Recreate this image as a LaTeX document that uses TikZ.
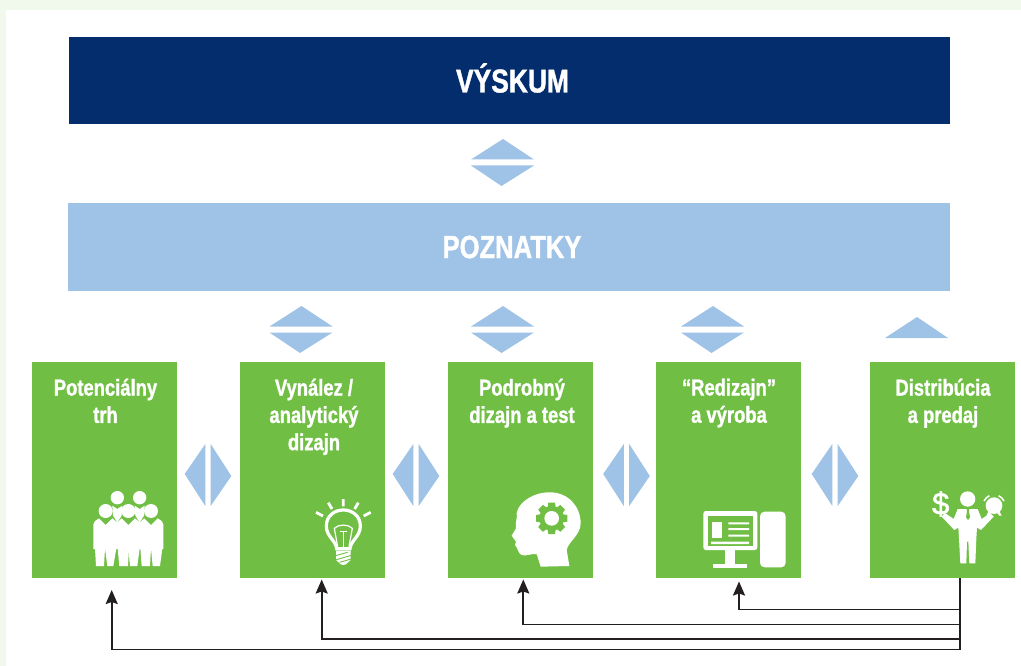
\documentclass[tikz,border=0pt]{standalone}
\usepackage{fontspec}
\setmainfont[FakeStretch=0.80,BoldFeatures={FakeBold=1.2}]{Liberation Sans}
\newfontfamily\dollarfont[FakeBold=1.5]{Liberation Sans}
\usetikzlibrary{arrows.meta}
\definecolor{navy}{HTML}{042D6E}
\definecolor{sky}{HTML}{9FC3E7}
\definecolor{leaf}{HTML}{70BF44}
\definecolor{pale}{HTML}{F1F8EC}
\definecolor{ink}{HTML}{231F20}
\tikzset{
  bar/.style={minimum height=87pt,inner sep=0pt,outer sep=0pt},
  bartext/.style={text=white,inner sep=0pt,font=\fontsize{33}{38}\selectfont\bfseries},
  stage/.style={fill=leaf,minimum width=145pt,minimum height=216pt,inner sep=0pt,outer sep=0pt},
  stagelabel/.style={anchor=north,align=center,text=white,inner sep=0pt,font=\fontsize{23}{27.3}\selectfont\bfseries},
  tri/.style={fill=sky},
  feedback/.style={draw=ink,line width=1.9pt,-{Stealth[length=14pt,width=12pt,inset=2pt]}},
  spine/.style={draw=ink,line width=1.9pt},
  ico/.style={fill=white},
  icol/.style={draw=white,line cap=round},
  zm/.style={x=0.33333pt,y=-0.33333pt}
}
% double triangles, vertical pair: centre x, top y
\newcommand\vpair[2]{%
  \fill[tri] (#1-31.5,#2+20.5) -- (#1+0.5,#2) -- (#1+31.5,#2+20.5) -- cycle;
  \fill[tri] (#1-31.5,#2+26.5) -- (#1-1,#2+47) -- (#1+31.5,#2+26.5) -- cycle;
}
% double triangles, horizontal pair: centre x
\newcommand\hpair[1]{%
  \fill[tri] (#1-2.7,444) -- (#1-23.3,474) -- (#1-2.7,506) -- cycle;
  \fill[tri] (#1+2.7,444) -- (#1+23.3,476) -- (#1+2.7,506) -- cycle;
}
\begin{document}
\begin{tikzpicture}[x=1pt,y=-1pt]
\useasboundingbox (0,0) rectangle (1021,666);
\fill[pale] (0,0) rectangle (1021,666);
\fill[white] (6,10) rectangle (1021,666);

\node[bar,fill=navy,minimum width=881pt] (vyskum) at (509.5,80.5) {};
\node[bartext] (vyskumt) at (512.5,78) {VÝSKUM};
\node[bar,fill=sky,minimum width=882pt,minimum height=88pt] (poznatky) at (509,247) {};
\node[bartext,font=\fontsize{32}{38}\selectfont\bfseries] (poznatkyt) at (512,247) {POZNATKY};

\node[stage] (b1) at (104.5,470) {};
\node[stage] (b2) at (312.5,470) {};
\node[stage] (b3) at (520.5,470) {};
\node[stage] (b4) at (728.5,470) {};
\node[stage] (b5) at (942.5,470) {};

\node[stagelabel] (l1) at (105.5,378.5) {Potenciálny\\trh};
\node[stagelabel] (l2) at (314,378.5) {Vynález /\\analytický\\dizajn};
\node[stagelabel] (l3) at (522,378.5) {Podrobný\\dizajn a test};
\node[stagelabel] (l4) at (729,378.5) {“Redizajn”\\a výroba};
\node[stagelabel] (l5) at (943,378.5) {Distribúcia\\a predaj};

\vpair{502.5}{139}
\vpair{301}{306}
\vpair{502.5}{306}
\vpair{712.5}{306}
\fill[tri] (885,338) -- (917,317) -- (948,338) -- cycle;
\hpair{208}
\hpair{416}
\hpair{626.5}
\hpair{835}

% connectors
\coordinate (top) at (960,579);
\coordinate (j4) at (960,609.5);
\coordinate (j3) at (960,624.5);
\coordinate (j2) at (960,639);
\coordinate (j1) at (960,649.5);
\coordinate (t4) at (739,581.5);
\coordinate (t3) at (523.3,579.5);
\coordinate (t2) at (321.7,579.5);
\coordinate (t1) at (111.7,590);
\draw[spine,line cap=rect] (top) -- (j1);
\draw[feedback] (j4) -| (t4);
\draw[feedback] (j3) -| (t3);
\draw[feedback] (j2) -| (t2);
\draw[feedback] (j1) -| (t1);

% people icon
\begin{scope}[shift={(85,485)},zm]
  \fill[ico] (97,38) circle (20) (164,38) circle (20);
  \fill[ico] (62,78) circle (21) (130,78) circle (21) (198,78) circle (21);
  \fill[ico] (82,62) -- (97,72) -- (112,62) -- (110,92) -- (97,112) -- (84,92) -- cycle;
  \fill[ico] (149,62) -- (164,72) -- (179,62) -- (177,92) -- (164,112) -- (151,92) -- cycle;
  \fill[ico] (25,118) -- (30,108) -- (42,100) -- (62,120) -- (82,100) -- (97,112) -- (110,100) -- (130,120) -- (150,100) -- (164,112) -- (178,100) -- (198,120) -- (218,100) -- (230,108) -- (235,118) -- (235,192) -- (25,192) -- cycle;
  \fill[ico] (30,190) -- (60,190) -- (57,243) -- (33,243) -- cycle;
  \fill[ico] (60,190) -- (94,190) -- (85,243) -- (67,243) -- cycle;
  \fill[ico] (98,190) -- (132,190) -- (129,243) -- (103,243) -- cycle;
  \fill[ico] (130,190) -- (164,190) -- (157,243) -- (135,243) -- cycle;
  \fill[ico] (166,190) -- (198,190) -- (195,243) -- (170,243) -- cycle;
  \fill[ico] (198,190) -- (232,190) -- (225,243) -- (203,243) -- cycle;
\end{scope}

% bulb icon
\begin{scope}[shift={(305,490)},zm]
  \draw[icol,line width=2.8pt,line cap=butt] (115,27) -- (115,49) (70,38) -- (81,57) (160,38) -- (149,57) (33,67) -- (54,78) (197,67) -- (176,78);
  \draw[white,line width=3.2pt] (95,176) .. controls (92,150) and (64,140) .. (64,108) .. controls (64,78) and (88,60) .. (115,60) .. controls (142,60) and (166,78) .. (166,108) .. controls (166,140) and (138,150) .. (135,176) -- cycle;
  \draw[white,line width=1.2pt] (98,170) -- (88,115) .. controls (100,102) and (130,102) .. (142,115) -- (132,170);
  \draw[white,line width=1.4pt] (104,125) -- (126,125) (115,125) -- (115,170);
  \fill[ico] (93,182) -- (137,182) -- (137,210) -- (128,218) .. controls (124,227) and (106,227) .. (102,218) -- (93,210) -- cycle;
  \draw[leaf,line width=0.9pt] (91,197) -- (128,187) (91,210) -- (139,196) (104,217) -- (139,207);
\end{scope}

% head icon
\begin{scope}[shift={(505,485)},zm]
  \fill[ico] (193,243) -- (107,245) -- (95,207) .. controls (80,205) and (60,215) .. (50,210) .. controls (38,205) and (40,190) .. (30,180) -- (33,170) -- (28,163) -- (20,152) -- (33,130) .. controls (30,110) and (38,100) .. (35,85) .. controls (40,50) and (90,20) .. (135,22) .. controls (190,22) and (227,65) .. (227,115) .. controls (227,150) and (190,170) .. (185,195) -- cycle;
  \fill[leaf] (140,100) circle (37);
  \foreach \a in {0,45,...,315} {
    \fill[leaf,rotate around={\a:(140,100)}] (130,53) -- (150,53) -- (153,72) -- (127,72) -- cycle;
  }
  \fill[ico] (140,100) circle (22);
\end{scope}

% computer icon
\begin{scope}[shift={(695,505)},zm]
  \fill[ico,rounded corners=2.5pt] (25,18) rectangle (187,135);
  \fill[leaf] (38,33) rectangle (175,122);
  \fill[ico] (52,52) rectangle (82,98);
  \fill[ico] (100,52) rectangle (162,58) (100,69) rectangle (162,75) (100,89) rectangle (162,95) (48,110) rectangle (162,117);
  \fill[ico] (90,130) rectangle (120,180);
  \fill[ico] (55,178) rectangle (157,188);
  \fill[ico,rounded corners=4.5pt] (195,20) rectangle (272,187);
\end{scope}

% businessman icon
\begin{scope}[shift={(925,485)},zm]
  \fill[ico] (128,42) circle (23);
  \fill[ico] (50,95) -- (60,84) -- (86,102) -- (98,72) -- (158,72) -- (170,102) -- (196,84) -- (206,95) -- (168,135) -- (156,128) -- (154,160) -- (151,235) -- (133,235) -- (130,170) -- (126,170) -- (124,235) -- (106,235) -- (102,160) -- (100,128) -- (88,135) -- cycle;
  \fill[leaf] (125,72) -- (133,72) -- (132,80) -- (135,97) -- (129,105) -- (123,97) -- (126,80) -- cycle;
  \node[text=white,inner sep=0pt,font=\fontsize{31}{34}\selectfont\dollarfont] (dollar) at (47,57) {\$};
  \fill[ico] (207,62) circle (25);
  \draw[white,line width=1.5pt] (207,62) ++(-115:33) arc (-115:-155:33) (207,62) ++(-25:33) arc (-25:-65:33);
  \fill[ico] (190,80) -- (184,92) -- (191,92) -- (197,84) -- cycle (224,80) -- (230,92) -- (223,92) -- (217,84) -- cycle;
\end{scope}
\end{tikzpicture}
\end{document}
